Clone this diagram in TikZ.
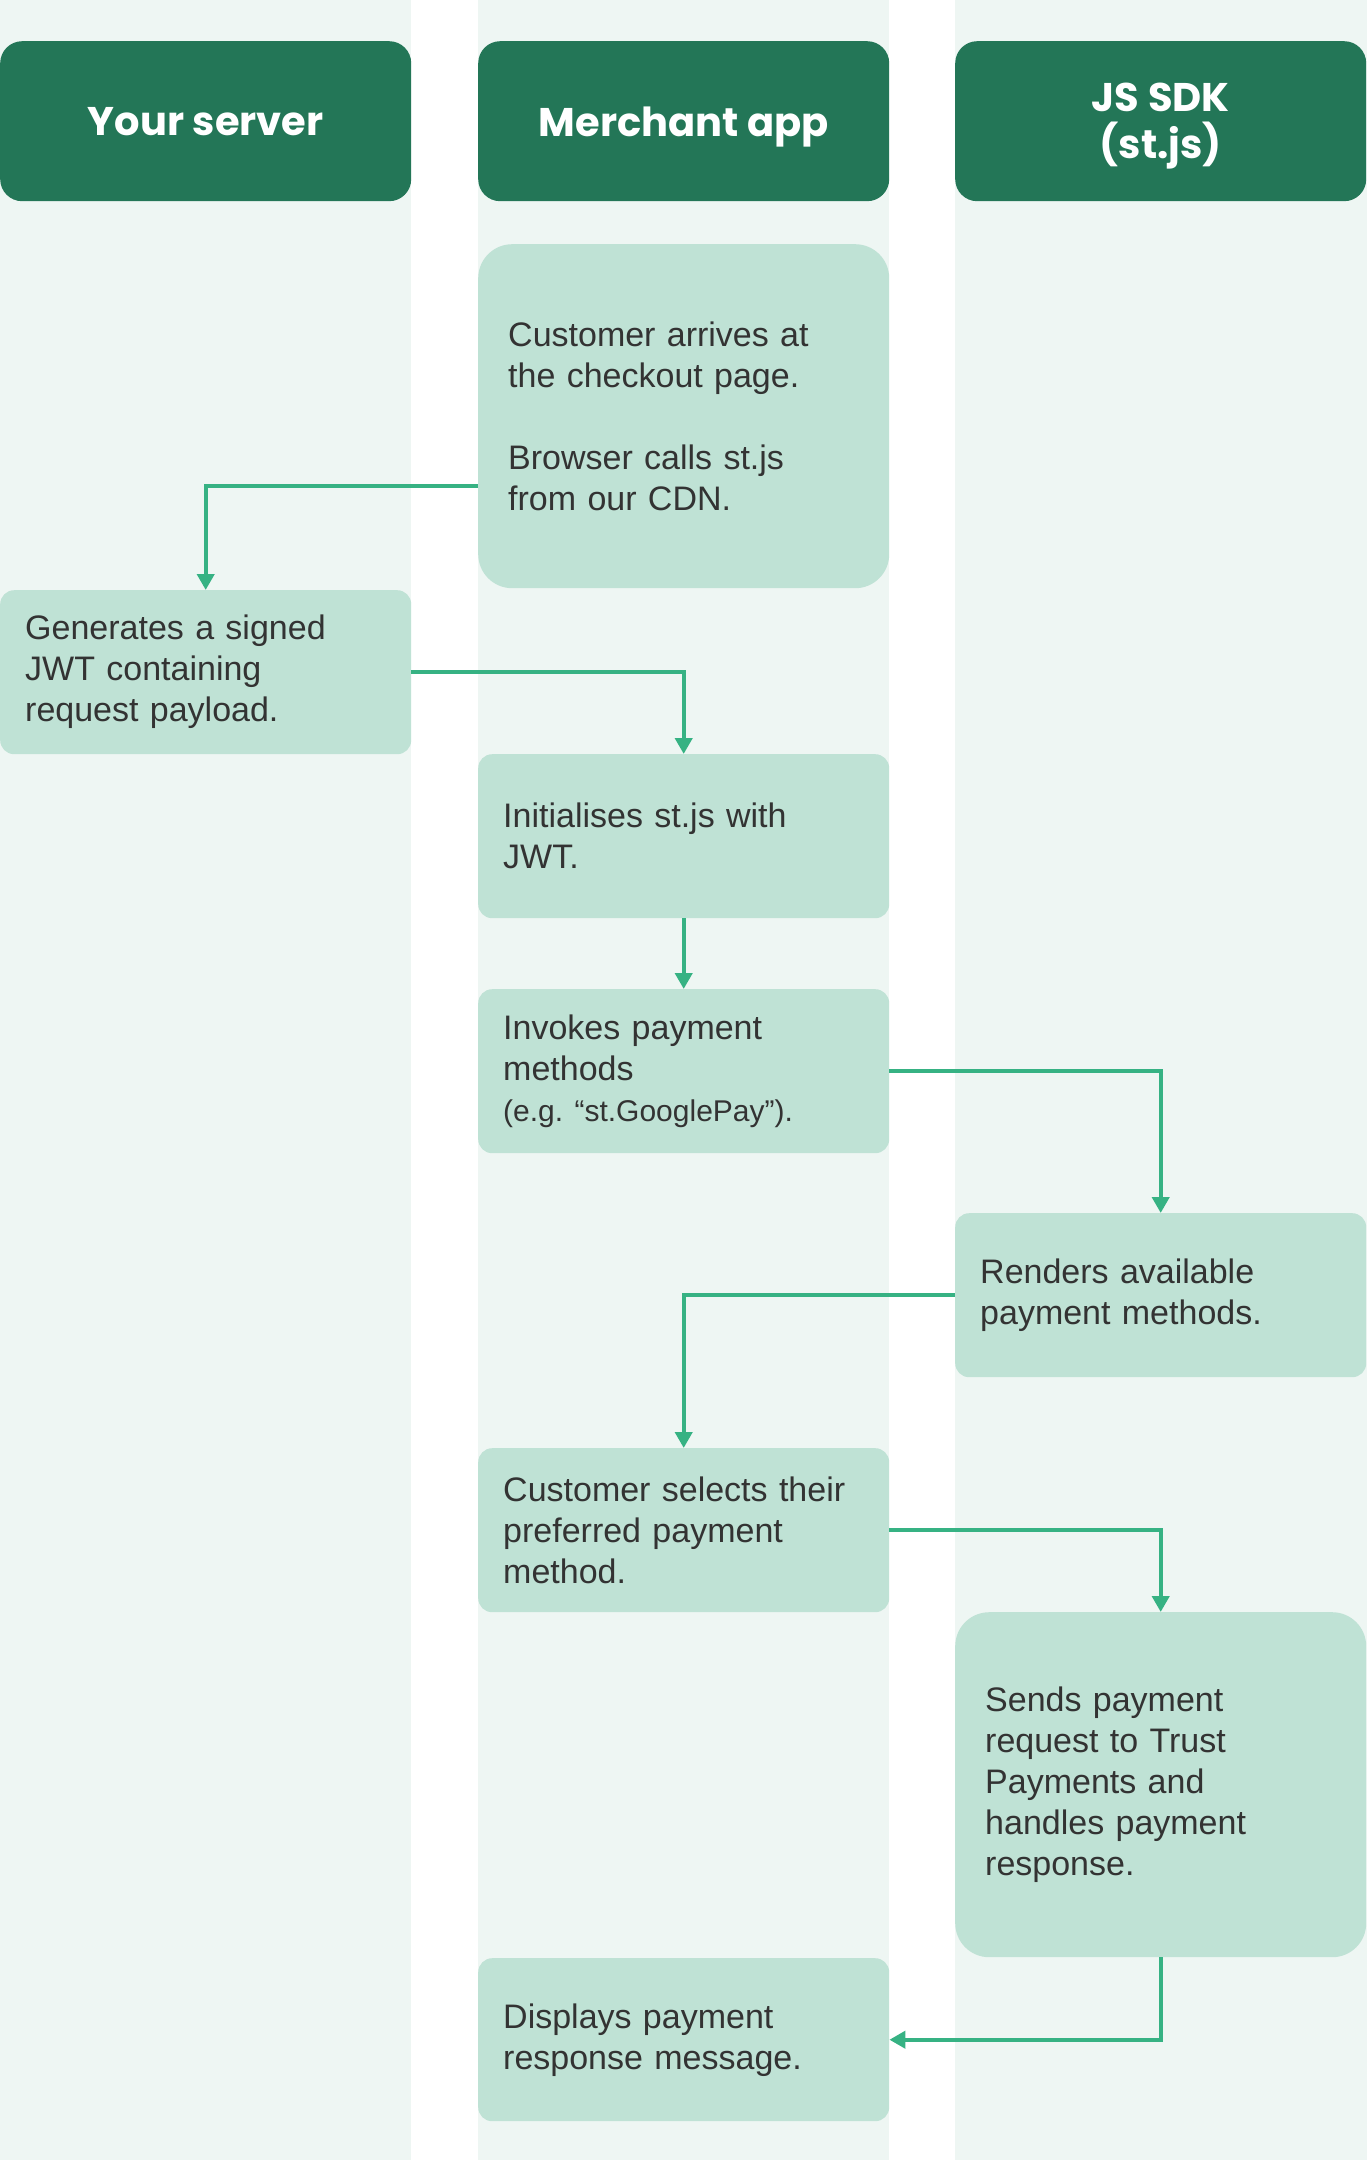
\documentclass[tikz,border=0pt]{standalone}
\usepackage{fontspec}
\setmainfont{Liberation Sans}
\newfontfamily\headfont{Poppins}
\usetikzlibrary{arrows.meta}
\definecolor{lanebg}{HTML}{EEF6F3}
\definecolor{headbg}{HTML}{237657}
\definecolor{boxbg}{HTML}{BFE2D5}
\definecolor{arrowc}{HTML}{36B283}
\definecolor{txt}{HTML}{333333}
\frenchspacing
\begin{document}
\begin{tikzpicture}[x=1pt,y=-1pt,
  lane/.style={fill=lanebg,draw=none},
  header/.style={fill=headbg,draw=none,rounded corners=22pt,anchor=north west,
    minimum width=411pt,minimum height=160pt,inner sep=0pt,text=white,
    align=center,font=\headfont\bfseries\fontsize{40}{47}\selectfont},
  stepbox/.style={fill=boxbg,draw=none,rounded corners=14pt,anchor=north west,
    minimum width=411pt,inner xsep=25pt,inner ysep=0pt,text width=361pt,
    align=left,text=txt,font=\fontsize{34}{41}\selectfont},
  bigbox/.style={stepbox,rounded corners=34pt,inner xsep=30pt,text width=351pt},
  flow/.style={draw=arrowc,line width=4pt,-{Triangle[width=17pt,length=16pt]}}
]
\useasboundingbox (0,0) rectangle (1367,2160);
\fill[white] (0,0) rectangle (1367,2160);
\fill[lane] (0,0) rectangle (411,2160);
\fill[lane] (478,0) rectangle (889,2160);
\fill[lane] (955,0) rectangle (1367,2160);

\node[header] (h1) at (0,41) {Your server};
\node[header,text depth=0pt] (h2) at (478,41) {Merchant app};
\node[header,text depth=0pt] (h3) at (955,41) {JS SDK\\(st.js)};

\node[bigbox,minimum height=344pt] (A) at (478,244)
  {Customer arrives at\\the checkout page.\\[41pt]Browser calls st.js\\from our CDN.};
\node[stepbox,minimum height=164pt] (B) at (0,590)
  {Generates a signed\\JWT containing\\request payload.};
\node[stepbox,minimum height=164pt] (C) at (478,754)
  {Initialises st.js with\\JWT.};
\node[stepbox,minimum height=164pt] (D) at (478,989)
  {Invokes payment\\methods\\{\fontsize{30}{41}\selectfont(e.g. “st.GooglePay”).}};
\node[stepbox,minimum height=164pt] (E) at (955,1213)
  {Renders available\\payment methods.};
\node[stepbox,minimum height=164pt] (F) at (478,1448)
  {Customer selects their\\preferred payment\\method.};
\node[bigbox,minimum height=345pt] (G) at (955,1612)
  {Sends payment\\request to Trust\\Payments and\\handles payment\\response.};
\node[stepbox,minimum height=163pt] (H) at (478,1958)
  {Displays payment\\response message.};

\coordinate (a1) at ([yshift=-70pt]A.west);
\draw[flow] (a1) -| (B.north);
\draw[flow] (B.east) -| (C.north);
\draw[flow] (C.south) -- (D.north);
\draw[flow] (D.east) -| (E.north);
\draw[flow] (E.west) -| (F.north);
\draw[flow] (F.east) -| (G.north);
\draw[flow] (G.south) |- (H.east);
\end{tikzpicture}
\end{document}
